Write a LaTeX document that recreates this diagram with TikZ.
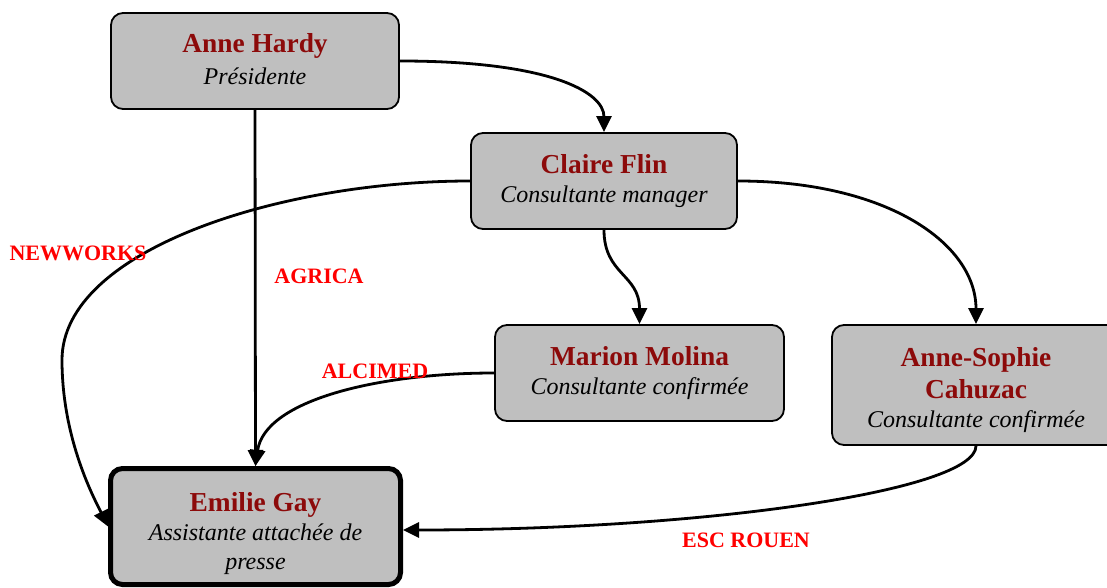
\documentclass[tikz,border=0pt]{standalone}
\usepackage{fontspec}
\setmainfont{Liberation Serif}
\usetikzlibrary{arrows.meta}
\definecolor{namered}{RGB}{140,10,10}
\definecolor{boxgray}{RGB}{191,191,191}
\definecolor{labred}{RGB}{255,0,0}
\newcommand{\personname}[1]{{\fontsize{13.7}{14.5}\selectfont\bfseries\upshape\color{namered}#1}}
\newcommand{\lowerby}[2]{\raisebox{-#1}[\height][\depth]{#2}}
\begin{document}
\begin{tikzpicture}[x=0.5pt,y=-0.5pt,
  person/.style={draw=black, line width=0.9pt, fill=boxgray, rounded corners=6pt,
    align=center, inner sep=0pt, font=\fontsize{12}{14.5}\selectfont\itshape},
  link/.style={line width=1.4pt, -{Triangle[length=8pt,width=7.5pt]}},
  lab/.style={text=labred, font=\fontsize{11}{13}\selectfont\bfseries}
]
\useasboundingbox (0,0) rectangle (1107,588);
\clip (0,0) rectangle (1107,588);

\node[person, minimum width=144pt, minimum height=48pt] (anne) at (255,61)
  {\lowerby{-1.5pt}{\personname{Anne Hardy}}\\Présidente};
\node[person, minimum width=133pt, minimum height=48pt] (claire) at (604,181)
  {\personname{Claire Flin}\\Consultante manager};
\node[person, minimum width=144.5pt, minimum height=48pt] (marion) at (639.5,373)
  {\personname{Marion Molina}\\Consultante confirmée};
\node[person, minimum width=144pt, minimum height=60pt] (sophie) at (976,385)
  {\lowerby{2.5pt}{\personname{Anne-Sophie}}\\[1.5pt]\lowerby{2.5pt}{\personname{Cahuzac}}\\\lowerby{2.5pt}{Consultante confirmée}};
\node[person, line width=2.5pt, minimum width=145pt, minimum height=58pt] (emilie) at (255.5,526.5)
  {\lowerby{3.5pt}{\personname{Emilie Gay}}\\\lowerby{3.5pt}{Assistante attachée de}\\\lowerby{3.5pt}{presse}};

\draw[link] (anne.east) .. controls +(150,0) and +(0,-40) .. (claire.north);
\draw[link] (anne.south) -- (emilie.north);
\draw[link] (claire.west) .. controls (280,181) and (62,250) .. (62,360)
  .. controls (62,440) and (95,500) .. (emilie.west);
\draw[link] (claire.south) .. controls +(0,45) and +(0,-50) .. (marion.north);
\draw[link] (claire.east) .. controls +(150,0) and +(0,-80) .. (sophie.north);
\draw[link] (marion.west) .. controls +(-115,0) and +(9,-66) .. (emilie.north);
\draw[link] (sophie.south) .. controls +(0,45) and +(300,0) .. ([yshift=-1.75pt]emilie.east);

\node[lab] (newworks) at (78,253) {NEWWORKS};
\node[lab] (agrica) at (319,276) {AGRICA};
\node[lab] (alcimed) at (375,371) {ALCIMED};
\node[lab] (escrouen) at (746,540) {ESC ROUEN};
\end{tikzpicture}
\end{document}
